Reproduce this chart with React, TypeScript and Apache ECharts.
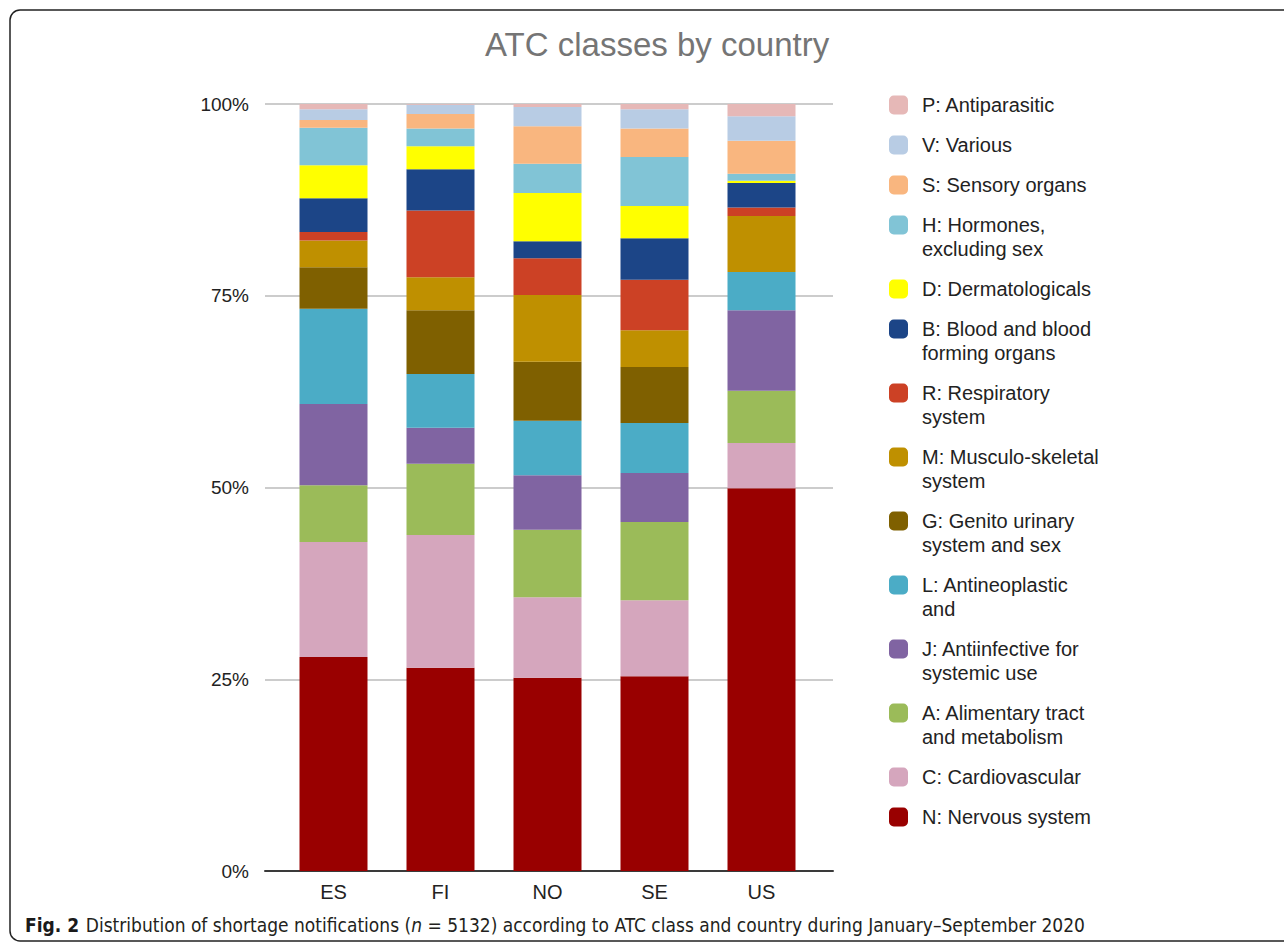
import React, { useEffect, useRef } from "react";
import * as echarts from "echarts";

const countries = ["ES", "FI", "NO", "SE", "US"];
const yTicks = [0, 25, 50, 75, 100];

// Share (%) of notifications per ATC class, in country order ES, FI, NO, SE, US
const nervous = [27.9, 26.5, 25.2, 25.4, 49.9];
const cardiovascular = [15.0, 17.3, 10.5, 9.9, 5.9];
const alimentary = [7.4, 9.3, 8.8, 10.2, 6.8];
const antiinfective = [10.6, 4.7, 7.1, 6.4, 10.5];
const antineoplastic = [12.4, 7.0, 7.1, 6.5, 5.0];
const genitoUrinary = [5.4, 8.3, 7.7, 7.3, 0];
const musculoSkeletal = [3.5, 4.3, 8.7, 4.8, 7.3];
const respiratory = [1.1, 8.7, 4.8, 6.6, 1.1];
const blood = [4.4, 5.4, 2.2, 5.4, 3.2];
const dermatologicals = [4.3, 3.0, 6.3, 4.2, 0.3];
const hormones = [4.9, 2.3, 3.8, 6.4, 0.9];
const sensory = [1.0, 1.9, 4.9, 3.7, 4.3];
const various = [1.4, 1.2, 2.5, 2.5, 3.2];
const antiparasitic = [0.7, 0.1, 0.4, 0.7, 1.6];

// bottom -> top stacking order
const classNames = [
  "N: Nervous system",
  "C: Cardiovascular",
  "A: Alimentary tract and metabolism",
  "J: Antiinfective for systemic use",
  "L: Antineoplastic and",
  "G: Genito urinary system and sex",
  "M: Musculo-skeletal system",
  "R: Respiratory system",
  "B: Blood and blood forming organs",
  "D: Dermatologicals",
  "H: Hormones, excluding sex",
  "S: Sensory organs",
  "V: Various",
  "P: Antiparasitic",
];
const legendLabels = [
  "N: Nervous system",
  "C: Cardiovascular",
  "A: Alimentary tract\nand metabolism",
  "J: Antiinfective for\nsystemic use",
  "L: Antineoplastic\nand",
  "G: Genito urinary\nsystem and sex",
  "M: Musculo-skeletal\nsystem",
  "R: Respiratory\nsystem",
  "B: Blood and blood\nforming organs",
  "D: Dermatologicals",
  "H: Hormones,\nexcluding sex",
  "S: Sensory organs",
  "V: Various",
  "P: Antiparasitic",
];
const classValues = [
  nervous, cardiovascular, alimentary, antiinfective, antineoplastic, genitoUrinary,
  musculoSkeletal, respiratory, blood, dermatologicals, hormones, sensory, various, antiparasitic,
];
const classColors = [
  "#990000", "#d5a6bd", "#9bbb59", "#8064a2", "#4bacc6", "#7f6000", "#bf9000",
  "#cc4125", "#1c4587", "#ffff00", "#81c4d6", "#f9b67f", "#b8cce4", "#e6b8b7",
];

const FONT = "'Liberation Sans', Arial, Helvetica, sans-serif";
const CAP_FONT = "'Liberation Sans Narrow', 'DejaVu Sans Condensed', Roboto, sans-serif";

export default function App() {
  const ref = useRef<HTMLDivElement>(null);
  useEffect(() => {
    document.body.style.margin = "0";
    const chart = echarts.init(ref.current!, null, { renderer: "svg" });
    const labelMap: Record<string, string> = {};
    classNames.forEach((n, i) => {
      const l = legendLabels[i];
      labelMap[n] = l.includes("\n") ? "\n" + l : l;
    });

    const series = classNames.map((name, i) => ({
      name,
      type: "bar",
      stack: "total",
      xAxisIndex: 1,
      yAxisIndex: 1,
      barWidth: 68,
      data: classValues[i],
      itemStyle: { color: classColors[i] },
    }));

    // legend items from top (P) to bottom (N); one legend component per item
    const legends: any[] = [];
    let y = 105; // centre of first line of the first item
    for (let k = classNames.length - 1; k >= 0; k--) {
      const name = classNames[k];
      const twoLine = legendLabels[k].includes("\n");
      legends.push({
        orient: "vertical",
        left: 889,
        top: twoLine ? y - 36 : y - 12,
        padding: 0,
        itemWidth: 19,
        itemHeight: 19,
        icon: "roundRect",
        selectedMode: false,
        data: [name],
        formatter: (n: string) => labelMap[n] ?? n,
        textStyle: { fontSize: 20, lineHeight: 24, color: "#222", fontFamily: FONT, padding: [0, 0, 0, 9] },
      });
      y += twoLine ? 64 : 40;
    }

    chart.setOption({
      animation: false,
      textStyle: { fontFamily: FONT },
      title: {
        text: "ATC classes by country",
        left: 480,
        top: 23,
        textStyle: { fontSize: 33, fontWeight: "normal", color: "#757575", fontFamily: FONT },
      },
      legend: legends,
      grid: [
        { left: 265, right: 451, top: 104, bottom: 71 },
        { left: 280, width: 535, top: 104, bottom: 71 },
      ],
      xAxis: [
        {
          type: "category",
          gridIndex: 0,
          data: countries,
          axisLine: { show: true, lineStyle: { color: "#3a3a3a", width: 2 } },
          axisTick: { show: false },
          axisLabel: { show: false },
        },
        {
          type: "category",
          gridIndex: 1,
          data: countries,
          axisLine: { show: false },
          axisTick: { show: false },
          axisLabel: { fontSize: 20, color: "#222", margin: 11, fontFamily: FONT },
        },
      ],
      yAxis: [
        {
          type: "value",
          gridIndex: 0,
          min: yTicks[0],
          max: yTicks[yTicks.length - 1],
          interval: 25,
          axisLine: { show: false },
          axisTick: { show: false },
          axisLabel: { fontSize: 19, color: "#222", margin: 16, formatter: "{value}%", fontFamily: FONT },
          splitLine: { lineStyle: { color: "#cccccc", width: 2 } },
        },
        {
          type: "value",
          gridIndex: 1,
          min: yTicks[0],
          max: yTicks[yTicks.length - 1],
          interval: 25,
          show: false,
          splitLine: { show: false },
        },
      ],
      series,
      graphic: [
        {
          type: "rect",
          shape: { x: 10, y: 10, width: 1300, height: 931, r: 10 },
          style: { fill: "none", stroke: "#222", lineWidth: 1.5 },
          silent: true,
        },
        {
          type: "text",
          x: 25,
          y: 925,
          style: {
            text: "{b|Fig. 2}  {r|Distribution of shortage notifications (}{i|n}{r| = 5132) according to ATC class and country during January–September 2020}",
            verticalAlign: "middle",
            rich: {
              b: { fontWeight: "bold", fontSize: 19, fill: "#1a1a1a", fontFamily: CAP_FONT },
              r: { fontSize: 19, fill: "#231f20", fontFamily: CAP_FONT },
              i: { fontSize: 19, fontStyle: "italic", fill: "#231f20", fontFamily: CAP_FONT },
            },
          },
        },
      ],
    });
    return () => chart.dispose();
  }, []);
  return <div ref={ref} style={{ width: 1284, height: 942 }} />;
}
